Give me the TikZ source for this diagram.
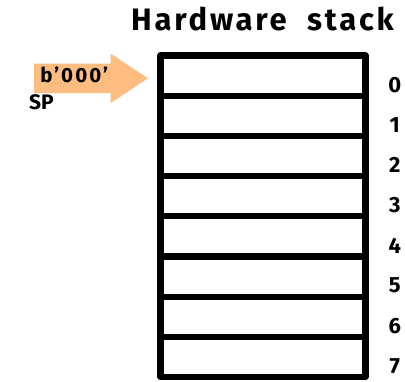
\documentclass[tikz,border=0pt]{standalone}
\usepackage{fontspec}
\usepackage{graphicx}
\setmainfont{Fira Sans}
\usetikzlibrary{positioning,shapes.arrows}
\definecolor{spOrange}{RGB}{253,189,128}

\begin{document}
\begin{tikzpicture}[x=1pt, y=1pt,
  cell/.style={draw, line width=6.3pt, line join=round, minimum width=205pt,
    minimum height=40.2pt, inner sep=0pt, outer sep=0pt},
  idx/.style={font=\bfseries\fontsize{22}{22}\selectfont, inner sep=0pt},
  heading/.style={font=\bfseries\fontsize{31}{31}\selectfont\addfontfeatures{LetterSpace=9}, inner sep=0pt},
  ptr/.style={single arrow, fill=spOrange, inner xsep=0pt, inner ysep=3.3pt,
    text width=79pt, align=left, text depth=6.7pt,
    single arrow head extend=10pt, single arrow tip angle=67,
    minimum height=114pt, font=\bfseries\fontsize{20.5}{20.5}\selectfont\addfontfeatures{LetterSpace=10}},
  splabel/.style={font=\bfseries\fontsize{21}{21}\selectfont, inner sep=0pt}
]
\useasboundingbox (0,0) rectangle (405,381);

% title
\node[heading, anchor=base] (title) at (262.5,350) {Hardware\ \ stack};

% stack cells
\node[cell] (c0) at (263,305.4) {};
\foreach \j [count=\i from 0] in {1,...,7}
  \node[cell, below=0pt of c\i] (c\j) {};

% cell numbers
\foreach \i in {0,...,7}
  \node[idx] (n\i) at ([shift={(29.3,11)}]c\i.south east) {\i};

% stack pointer
\node[ptr, anchor=tip] (ptr) at (148.3,302.7) {b’000’};
\node[splabel, anchor=base west] (sp) at (29,271) {SP};
\end{tikzpicture}
\end{document}
